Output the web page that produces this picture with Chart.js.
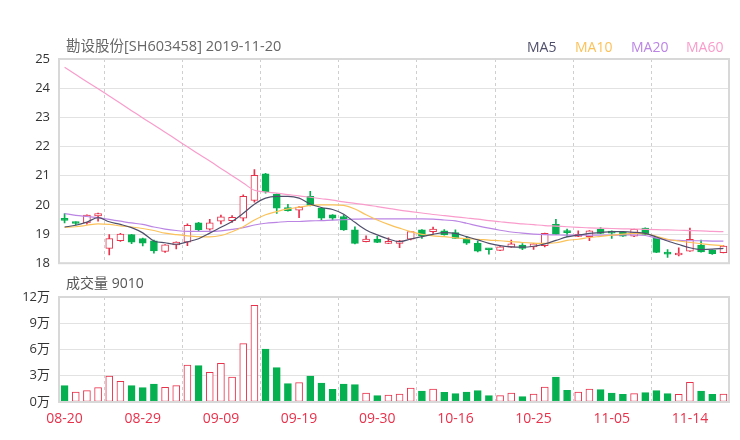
<!DOCTYPE html>
<html><head><meta charset="utf-8">
<script src="https://cdn.jsdelivr.net/npm/chart.js@4.4.0/dist/chart.umd.min.js"></script>
<style>
body{margin:0;background:#fff;width:740px;height:440px;overflow:hidden;position:relative;font-family:"Open Sans","Noto Sans CJK SC",sans-serif}
canvas{position:absolute;left:0}
#c1{top:0}
#c2{top:270px}
.t{position:absolute;white-space:nowrap;line-height:16px}
</style></head><body>
<canvas id="c1" width="740" height="280"></canvas>
<canvas id="c2" width="740" height="170"></canvas>
<div class="t" style="left:66px;top:38px;font-size:14.5px;color:#666">勘设股份[SH603458] 2019-11-20</div>
<div class="t" style="left:527px;top:39px;font-size:14px;color:#4f4f6c">MA5</div>
<div class="t" style="left:575px;top:39px;font-size:14px;color:#fbc25a">MA10</div>
<div class="t" style="left:631px;top:39px;font-size:14px;color:#bb85e4">MA20</div>
<div class="t" style="left:686px;top:39px;font-size:14px;color:#f99ccb">MA60</div>
<div class="t" style="left:66px;top:275px;font-size:14px;color:#555">成交量 9010</div>
<script>
const dates = ["08-20","08-21","08-22","08-23","08-26","08-27","08-28","08-29","08-30","09-02","09-03","09-04","09-05","09-06","09-09","09-10","09-11","09-12","09-16","09-17","09-18","09-19","09-20","09-23","09-24","09-25","09-26","09-27","09-30","10-08","10-09","10-10","10-11","10-14","10-15","10-16","10-17","10-18","10-21","10-22","10-23","10-24","10-25","10-28","10-29","10-30","10-31","11-01","11-04","11-05","11-06","11-07","11-08","11-11","11-12","11-13","11-14","11-15","11-18","11-19"];
const opens = [19.50,19.36,19.38,19.62,18.51,18.77,18.98,18.84,18.77,18.40,18.63,18.72,19.38,19.17,19.44,19.46,19.54,20.15,21.06,20.37,19.91,19.82,20.29,19.89,19.66,19.60,19.14,18.74,18.83,18.68,18.68,18.82,19.14,19.08,19.11,19.05,18.83,18.68,18.48,18.44,18.55,18.62,18.56,18.60,19.33,19.07,18.92,18.91,19.16,19.06,19.06,18.93,19.20,18.85,18.33,18.28,18.41,18.62,18.45,18.36];
const highs = [19.70,19.42,19.66,19.72,18.98,19.02,18.99,18.86,18.79,18.64,18.73,19.35,19.40,19.50,19.65,19.63,20.34,21.21,21.08,20.38,20.02,19.94,20.46,19.90,19.67,19.66,19.25,18.94,18.92,18.87,18.78,19.09,19.15,19.24,19.15,19.14,18.91,18.76,18.49,18.57,18.79,18.67,18.67,19.03,19.50,19.17,19.11,19.12,19.22,19.11,19.07,19.17,19.21,18.86,18.47,18.53,19.20,18.79,18.46,18.60];
const lows = [19.38,19.31,19.34,19.44,18.28,18.75,18.67,18.59,18.34,18.37,18.49,18.60,19.10,19.13,19.35,19.40,19.45,20.09,20.40,19.71,19.78,19.56,19.96,19.48,19.48,19.12,18.66,18.73,18.70,18.67,18.53,18.80,18.85,19.02,18.96,18.84,18.64,18.39,18.31,18.43,18.54,18.46,18.47,18.56,18.98,18.91,18.91,18.77,19.01,18.85,18.92,18.91,18.98,18.36,18.20,18.25,18.40,18.38,18.30,18.35];
const closes = [19.47,19.36,19.65,19.70,18.84,19.00,18.72,18.69,18.42,18.63,18.72,19.30,19.15,19.38,19.59,19.57,20.29,21.01,20.44,19.89,19.80,19.92,19.98,19.54,19.54,19.14,18.68,18.83,18.71,18.74,18.77,19.08,18.94,19.17,18.97,18.85,18.69,18.41,18.46,18.56,18.66,18.51,18.66,19.02,18.99,19.05,18.99,19.11,19.02,19.03,18.93,19.16,18.99,18.37,18.31,18.29,18.82,18.39,18.33,18.59];
const volumes = [18700,11400,13000,16400,29700,23600,18700,16400,20600,16800,18700,42300,41500,33900,44200,28600,66700,110500,60600,39200,21000,22100,29700,21700,14500,20600,19800,10300,7200,8000,9100,16000,12600,14900,11000,9500,11400,13000,7200,7200,10300,6100,9100,17100,28600,13300,11400,14900,14100,10300,8800,9500,10700,13000,9500,8800,22500,12600,8800,9010];
const ma5 = [19.24,19.30,19.41,19.56,19.42,19.33,19.22,19.04,18.76,18.70,18.65,18.73,18.84,19.03,19.23,19.43,19.71,20.02,20.23,20.29,20.29,20.23,20.03,19.91,19.84,19.68,19.40,19.14,18.97,18.83,18.74,18.83,18.91,18.99,19.05,19.02,18.91,18.80,18.68,18.60,18.56,18.55,18.58,18.66,18.78,18.90,18.96,19.02,19.05,19.08,19.08,19.06,19.02,18.90,18.76,18.64,18.53,18.47,18.48,18.51];
const ma10 = [19.23,19.25,19.30,19.35,19.33,19.28,19.24,19.19,19.12,19.03,18.98,18.94,18.91,18.90,18.95,19.08,19.25,19.48,19.66,19.77,19.86,19.92,19.98,20.00,20.00,19.98,19.86,19.66,19.48,19.33,19.20,19.08,18.99,18.94,18.91,18.87,18.84,18.82,18.79,18.77,18.74,18.71,18.69,18.68,18.70,18.78,18.82,18.88,18.92,18.96,19.00,19.02,19.01,18.92,18.82,18.76,18.71,18.67,18.63,18.60];
const ma20 = [19.70,19.64,19.60,19.56,19.50,19.44,19.38,19.33,19.24,19.17,19.12,19.09,19.09,19.09,19.11,19.16,19.22,19.31,19.37,19.40,19.43,19.43,19.45,19.46,19.48,19.49,19.51,19.52,19.52,19.52,19.52,19.52,19.52,19.51,19.48,19.45,19.37,19.28,19.20,19.13,19.07,19.03,19.00,18.98,18.97,18.96,18.96,18.96,18.96,18.96,18.97,18.97,18.95,18.86,18.80,18.78,18.77,18.77,18.76,18.76];
const ma60 = [24.72,24.47,24.22,23.98,23.73,23.48,23.23,22.98,22.74,22.49,22.24,21.99,21.74,21.50,21.25,21.00,20.75,20.50,20.44,20.40,20.35,20.31,20.26,20.21,20.16,20.10,20.05,20.00,19.94,19.88,19.82,19.77,19.72,19.67,19.63,19.59,19.55,19.51,19.46,19.42,19.38,19.35,19.32,19.29,19.27,19.25,19.23,19.21,19.20,19.19,19.18,19.17,19.16,19.15,19.14,19.13,19.12,19.11,19.09,19.08];
const priceTicks = [18,19,20,21,22,23,24,25];
const volTicks = [0,30000,60000,90000,120000];

const RED = '#e8314b', GREEN = '#05b050';
const FONT = "'Open Sans','Noto Sans CJK SC',sans-serif";
const candleUp = closes.map((c,i)=>c > opens[i]);
const volUp = closes.map((c,i)=>c >= opens[i]);

const framePlugin = {
  id:'frame',
  beforeDatasetsDraw(chart){
    const {ctx, chartArea:a} = chart; const xs = chart.scales.x;
    ctx.save(); ctx.strokeStyle='#cfcfcf'; ctx.lineWidth=1; ctx.setLineDash([3,3]);
    for(let k=0;k<dates.length;k+=7){
      const x = Math.round(xs.getPixelForValue(k+3.5))+0.5;
      if(x>a.left+2 && x<a.right-2){ctx.beginPath();ctx.moveTo(x,a.top);ctx.lineTo(x,a.bottom);ctx.stroke();}
    }
    ctx.restore();
  },
  afterDraw(chart){
    const {ctx, chartArea:a} = chart;
    ctx.save(); ctx.strokeStyle='#d8d8d8'; ctx.lineWidth=2;
    ctx.strokeRect(a.left, a.top, a.right-a.left, a.bottom-a.top);
    ctx.restore();
  }
};

function maLine(data,color){
  return {type:'line',data,borderColor:color,borderWidth:1.2,pointRadius:0,cubicInterpolationMode:'monotone',fill:false,order:0};
}

new Chart(document.getElementById('c1'),{
  type:'bar',
  data:{labels:dates,datasets:[
    maLine(ma5,'#4f4f6c'),maLine(ma10,'#fbc25a'),maLine(ma20,'#bb85e4'),maLine(ma60,'#f99ccb'),
    {data:opens.map((o,i)=>[o,closes[i]]),backgroundColor:candleUp.map(u=>u?'#ffffff':GREEN),borderColor:candleUp.map(u=>u?RED:GREEN),
      borderWidth:1,borderSkipped:false,barThickness:7,minBarLength:2,grouped:false,order:1},
    {data:lows.map((l,i)=>[l,highs[i]]),backgroundColor:candleUp.map(u=>u?RED:GREEN),borderWidth:0,barThickness:1,grouped:false,order:2}
  ]},
  options:{
    responsive:false,animation:false,events:[],
    layout:{padding:{top:59,right:11,bottom:8,left:0}},
    plugins:{legend:{display:false},tooltip:{enabled:false}},
    scales:{
      x:{display:false,offset:true},
      y:{min:18,max:25,afterFit(s){s.width=59;},afterBuildTicks(s){s.ticks=priceTicks.map(v=>({value:v}));},
        grid:{color:'#e2e2e2',drawTicks:false},border:{display:false},
        ticks:{color:'#333',padding:9,font:{family:FONT,size:13}}}
    }
  },
  plugins:[framePlugin]
});

new Chart(document.getElementById('c2'),{
  type:'bar',
  data:{labels:dates,datasets:[
    {data:volumes,backgroundColor:volUp.map(u=>u?'#ffffff':GREEN),borderColor:volUp.map(u=>u?RED:GREEN),
      borderWidth:1,borderSkipped:false,barThickness:7}
  ]},
  options:{
    responsive:false,animation:false,events:[],
    layout:{padding:{top:27,right:11,bottom:0,left:0}},
    plugins:{legend:{display:false},tooltip:{enabled:false}},
    scales:{
      x:{offset:true,afterFit(s){s.height=38;},grid:{display:false,drawTicks:false},border:{display:false},
        ticks:{autoSkip:false,maxRotation:0,color:RED,padding:9,font:{family:FONT,size:14},
          callback(v,i){return i%7===0?dates[i]:'';}}},
      y:{min:0,max:120000,afterFit(s){s.width=59;},afterBuildTicks(s){s.ticks=volTicks.map(v=>({value:v}));},
        grid:{color:'#e2e2e2',drawTicks:false},border:{display:false},
        ticks:{color:'#333',padding:9,font:{family:FONT,size:13},callback(v){return (v/10000)+'万';}}}
    }
  },
  plugins:[framePlugin]
});
</script>
</body></html>
